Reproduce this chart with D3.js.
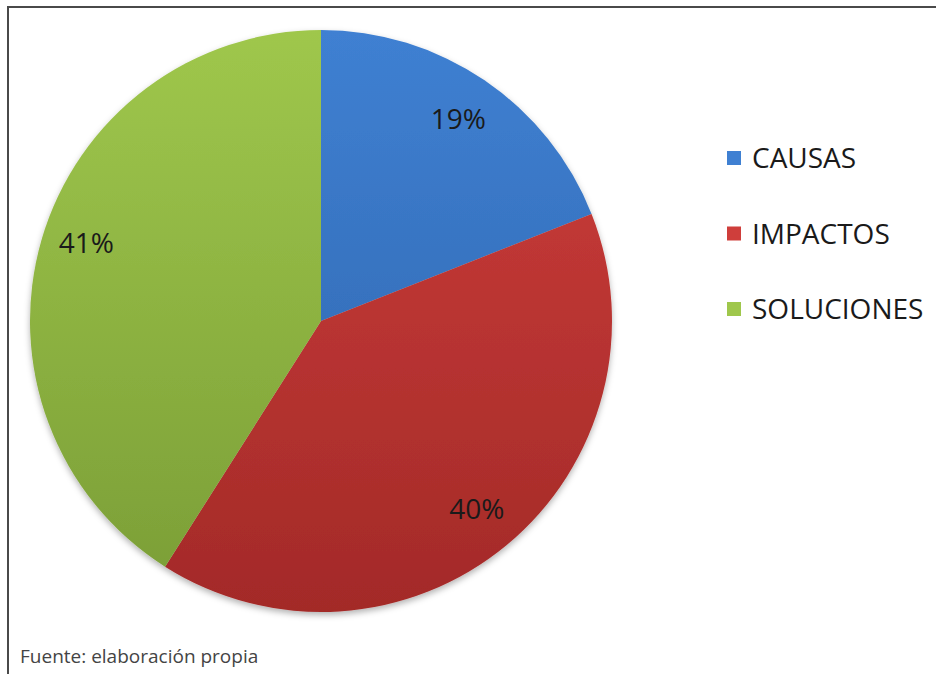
<!DOCTYPE html>
<html>
<head>
<meta charset="utf-8">
<script src="https://cdn.jsdelivr.net/npm/d3@7"></script>
<style>
  html, body { margin: 0; padding: 0; background: #fff; }
  svg { display: block; }
</style>
</head>
<body>
<svg id="chart" width="936" height="674"></svg>
<script>
const categories = ["CAUSAS", "IMPACTOS", "SOLUCIONES"];
const values = [19, 40, 41];
const labels = ["19%", "40%", "41%"];
const colorsTop = ["#3f80d2", "#cf3e3b", "#9fc74c"];
const colorsBottom = ["#2d63aa", "#a32a28", "#7a9d36"];
const source = "Fuente: elaboración propia";

const svg = d3.select("#chart");
const cx = 321, cy = 321, r = 291;

const defs = svg.append("defs");
categories.forEach((c, i) => {
  const g = defs.append("linearGradient")
    .attr("id", "grad" + i)
    .attr("gradientUnits", "userSpaceOnUse")
    .attr("x1", 0).attr("y1", -r).attr("x2", 0).attr("y2", r);
  g.append("stop").attr("offset", "0%").attr("stop-color", colorsTop[i]);
  g.append("stop").attr("offset", "100%").attr("stop-color", colorsBottom[i]);
});
const filt = defs.append("filter").attr("id", "shadow")
  .attr("x", "-10%").attr("y", "-10%").attr("width", "120%").attr("height", "120%");
filt.append("feDropShadow").attr("dx", 0).attr("dy", 3).attr("stdDeviation", 3)
  .attr("flood-color", "#000").attr("flood-opacity", 0.3);

// frame
svg.append("line").attr("x1", 8).attr("y1", 7).attr("x2", 936).attr("y2", 7)
  .attr("stroke", "#4a4a4a").attr("stroke-width", 2);
svg.append("line").attr("x1", 8).attr("y1", 6).attr("x2", 8).attr("y2", 674)
  .attr("stroke", "#4a4a4a").attr("stroke-width", 2);

const pie = d3.pie().sort(null).value(d => d)(values);
const arc = d3.arc().innerRadius(0).outerRadius(r);
const labelArc = d3.arc().innerRadius(r * 0.84).outerRadius(r * 0.84);

const g = svg.append("g").attr("transform", `translate(${cx},${cy})`);
g.append("g").attr("filter", "url(#shadow)")
  .selectAll("path").data(pie).join("path")
  .attr("d", arc)
  .attr("fill", (d, i) => `url(#grad${i})`);

g.selectAll("text.lbl").data(pie).join("text")
  .attr("class", "lbl")
  .attr("transform", d => `translate(${labelArc.centroid(d)})`)
  .attr("text-anchor", "middle")
  .attr("dy", (d, i) => i === 2 ? "0.0em" : "0.36em")
  .attr("font-family", "'Open Sans', sans-serif")
  .attr("font-size", 28)
  .attr("fill", "#1a1a1a")
  .text((d, i) => labels[i]);

// legend
const legend = svg.append("g").attr("transform", "translate(727,0)");
const ly = d3.scalePoint().domain(categories).range([158, 309]);
categories.forEach((c, i) => {
  legend.append("rect").attr("x", 0).attr("y", ly(c) - 7).attr("width", 14).attr("height", 14)
    .attr("fill", colorsTop[i]);
  legend.append("text").attr("x", 25).attr("y", ly(c)).attr("dy", "0.36em")
    .attr("font-family", "'Open Sans', sans-serif").attr("font-size", 28)
    .attr("fill", "#1a1a1a").text(c);
});

svg.append("text").attr("x", 20).attr("y", 663)
  .attr("font-family", "'Open Sans', sans-serif").attr("font-size", 19)
  .attr("fill", "#444").text(source);
</script>
</body>
</html>
